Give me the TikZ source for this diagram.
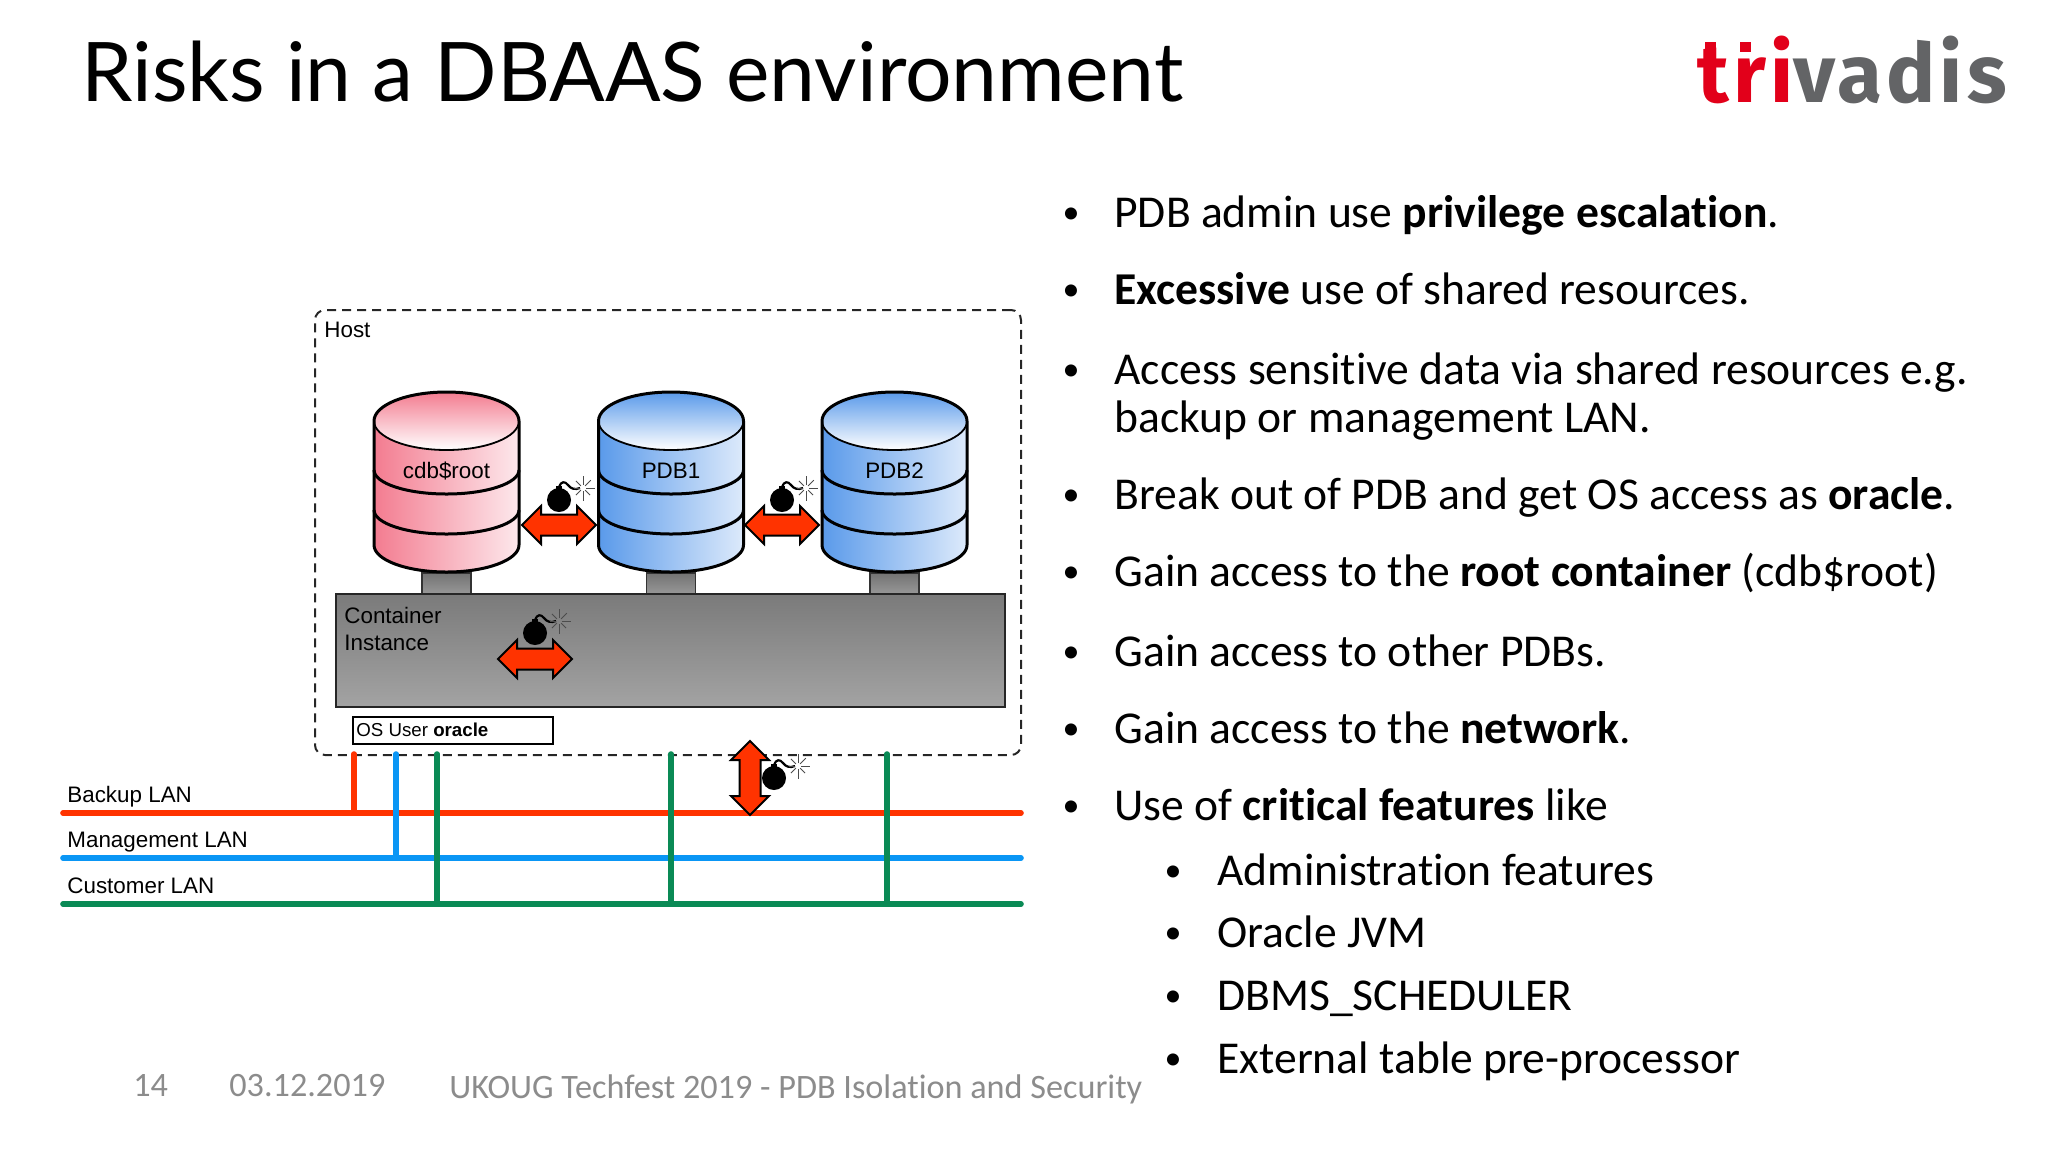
\documentclass[tikz,border=0pt]{standalone}
\usepackage{xcolor}
\usepackage{fontspec}
\setmainfont{Carlito}[Ligatures=NoCommon]
\setsansfont{Liberation Sans}
\newfontfamily\titlefont{Lato}
\newfontfamily\logofont{Fira Sans}[LetterSpace=5]
\usetikzlibrary{positioning, shapes.geometric, shapes.arrows}

\definecolor{lanred}{HTML}{FF3300}
\definecolor{lanblue}{HTML}{0A96F5}
\definecolor{langreen}{HTML}{0A8A55}
\definecolor{logored}{HTML}{E2001A}
\definecolor{logogray}{HTML}{636466}
\definecolor{footgray}{HTML}{8C8C8C}
\definecolor{pinkdark}{HTML}{F37C90}
\definecolor{pinklight}{HTML}{FDE8EC}
\definecolor{bluedark}{HTML}{5A9AEA}
\definecolor{bluelight}{HTML}{DDEAFB}

\tikzset{
    bullet/.style={anchor=base west, inner sep=0pt, font=\fontsize{22.8}{27}\selectfont, text=black},
    dot/.style={anchor=base, inner sep=0pt, font=\fontsize{17}{20}\selectfont},
    lantext/.style={anchor=base west, inner sep=0pt, font=\sffamily\fontsize{11.2}{14}\selectfont},
    lan/.style={line width=2.8pt, line cap=round},
    footer/.style={anchor=base west, inner sep=0pt, text=footgray, font=\fontsize{17.1}{20}\selectfont},
    dbarrow/.style={double arrow, draw=black, line width=1pt, fill=lanred, inner xsep=0pt, inner ysep=4.75pt, minimum width=18pt, minimum height=37pt, double arrow head extend=4.25pt},
    logodot/.style={fill=logored, minimum width=5.5pt, minimum height=5pt, inner sep=0pt, anchor=north west},
    stem/.style={draw=black!80, line width=.8pt, top color=black!55, bottom color=black!40, minimum width=24.5pt, minimum height=11pt, anchor=north, inner sep=0pt},
    pics/bomb/.style={code={
        \fill[black] (0,0) circle (12);
        \fill[black] (-3,-11) rectangle (3,-14);
        \draw[black, line width=1.1pt] (0,-13) .. controls (2,-19) and (6,-19) .. (9,-15) .. controls (12,-11) and (16,-10) .. (21,-12);
        \foreach \a/\l in {0/9,45/7,90/10,135/7,180/6,225/7,270/9,315/8}
            \draw[black!70, line width=.5pt] (24,-12)++(\a:3) -- ++(\a:\l);
    }},
    pics/database/.style 2 args={code={
        \path[left color=#1dark, right color=#1light] (-72.5,29) -- (-72.5,153)
            arc[start angle=180, end angle=0, x radius=72.5, y radius=27] -- (72.5,29)
            arc[start angle=0, end angle=180, x radius=72.5, y radius=29] -- cycle;
        \path[top color=#1dark, bottom color=white] (0,29) ellipse[x radius=72.5, y radius=29];
        \draw[line width=.9pt] (-72.5,29) arc[start angle=180, end angle=0, x radius=72.5, y radius=29];
        \draw[line width=1.5pt] (-72.5,78) arc[start angle=180, end angle=0, x radius=72.5, y radius=24];
        \draw[line width=1.5pt] (-72.5,118) arc[start angle=180, end angle=0, x radius=72.5, y radius=24];
        \draw[line width=1.5pt] (-72.5,153) -- (-72.5,29) arc[start angle=180, end angle=360, x radius=72.5, y radius=29] -- (72.5,153)
            arc[start angle=0, end angle=180, x radius=72.5, y radius=27];
        \node[inner sep=0pt, font=\sffamily\fontsize{11.2}{14}\selectfont] (-label) at (0,79) {#2};
    }}
}

\begin{document}
\begin{tikzpicture}[x=0.5pt, y=-0.5pt]
\useasboundingbox (0,0) rectangle (2048,1152);

% Title and logo
\node[anchor=base west, inner sep=0pt, font=\titlefont\fontsize{41.1}{48}\selectfont] (title) at (81,101) {Risks in a DBAAS environment};
\node[anchor=base west, inner sep=0pt, font=\logofont\bfseries\fontsize{41}{48}\selectfont, text=logogray] (logo) at (1697,102) {\textcolor{logored}{tri}vadis};
\node[logodot] (tdot) at (1705,42) {};
\node[logodot] (rdot) at (1740,42) {};

% Host
\node[draw=black!85, dash pattern=on 4.5pt off 3pt, line width=1pt, rounded corners=5pt, minimum width=353pt, minimum height=222.5pt, anchor=north west, inner sep=0pt] (host) at (314,309) {};
\node[anchor=base west, inner sep=0pt, font=\sffamily\fontsize{11.2}{14}\selectfont] (hostlabel) at (324,337) {Host};

% Stems under the databases
\node[stem] (stem1) at (446.5,572) {};
\node[stem] (stem2) at (671,572) {};
\node[stem] (stem3) at (894.5,572) {};

% Databases
\pic (cdb) at (446.5,392) {database={pink}{cdb\$root}};
\pic (pdb1) at (671,392) {database={blue}{PDB1}};
\pic (pdb2) at (894.5,392) {database={blue}{PDB2}};

% Container instance
\node[draw=black!85, line width=1pt, top color=black!52, bottom color=black!36, minimum width=334.7pt, minimum height=56.5pt, anchor=north west, inner sep=0pt] (instance) at (335,593) {};
\node[anchor=north west, inner sep=0pt, align=left, font=\sffamily\fontsize{11.2}{13.4}\selectfont] (instlabel) at (344,607) {Container\\Instance};
\node[draw=black, line width=.8pt, minimum width=100pt, minimum height=13.5pt, anchor=north west, inner sep=0pt] (osuser) at (352,716) {};
\node[anchor=base west, inner sep=0pt, font=\sffamily\fontsize{9.35}{12}\selectfont] (oslabel) at (356,736) {OS User \textbf{oracle}};

% LAN rails
\coordinate (backupw) at (63,813);
\coordinate (backupe) at (1021,813);
\coordinate (mgmtw) at (63,858);
\coordinate (mgmte) at (1021,858);
\coordinate (custw) at (63,904);
\coordinate (custe) at (1021,904);
\draw[lan, lanred] (backupw) -- (backupe);
\draw[lan, lanblue] (mgmtw) -- (mgmte);
\draw[lan, langreen] (custw) -- (custe);
\node[lantext] (backuplabel) at (67,802) {Backup LAN};
\node[lantext] (mgmtlabel) at (67,847) {Management LAN};
\node[lantext] (custlabel) at (67,893) {Customer LAN};

% Host links
\coordinate (linka) at (354,754);
\coordinate (linkb) at (396,754);
\coordinate (linkc) at (437,754);
\coordinate (linkd) at (671,754);
\coordinate (linke) at (887,754);
\draw[lan, lanred] (linka) -- (linka |- backupw);
\draw[lan, lanblue] (linkb) -- (linkb |- mgmtw);
\draw[lan, langreen] (linkc) -- (linkc |- custw);
\draw[lan, langreen] (linkd) -- (linkd |- custw);
\draw[lan, langreen] (linke) -- (linke |- custw);

% Red arrows
\node[dbarrow] (risk1) at (559,525) {};
\node[dbarrow] (risk2) at (782,525) {};
\node[dbarrow] (risk3) at (535,659) {};
\node[dbarrow, rotate=90] (risk4) at (750,778) {};

% Bombs
\pic at (559,500) {bomb};
\pic at (782,500) {bomb};
\pic at (535,633) {bomb};
\pic at (774,778) {bomb};

% Bullets
\node[dot] (d1) at (1071,223) {•};
\node[bullet] (t1) at (1114,227) {PDB admin use \textbf{privilege escalation}.};
\node[dot] (d2) at (1071,300) {•};
\node[bullet] (t2) at (1114,304) {\textbf{Excessive} use of shared resources.};
\node[dot] (d3) at (1071,380) {•};
\node[bullet] (t3) at (1114,384) {Access sensitive data via shared resources e.g.};
\node[bullet] (t3b) at (1114,432) {backup or management LAN.};
\node[dot] (d4) at (1071,505) {•};
\node[bullet] (t4) at (1114,509) {Break out of PDB and get OS access as \textbf{oracle}.};
\node[dot] (d5) at (1071,582) {•};
\node[bullet] (t5) at (1114,586) {Gain access to the \textbf{root container} (cdb\$root)};
\node[dot] (d6) at (1071,662) {•};
\node[bullet] (t6) at (1114,666) {Gain access to other PDBs.};
\node[dot] (d7) at (1071,739) {•};
\node[bullet] (t7) at (1114,743) {Gain access to the \textbf{network}.};
\node[dot] (d8) at (1071,816) {•};
\node[bullet] (t8) at (1114,820) {Use of \textbf{critical features} like};
\node[dot] (s1) at (1173,881) {•};
\node[bullet] (u1) at (1217,885) {Administration features};
\node[dot] (s2) at (1173,943) {•};
\node[bullet] (u2) at (1217,947) {Oracle JVM};
\node[dot] (s3) at (1173,1006) {•};
\node[bullet] (u3) at (1217,1010) {DBMS\_SCHEDULER};
\node[dot] (s4) at (1173,1069) {•};
\node[bullet] (u4) at (1217,1073) {External table pre-processor};

% Footer
\node[footer] (page) at (133,1096) {14};
\node[footer] (date) at (229,1096) {03.12.2019};
\node[footer] (event) at (449,1098) {UKOUG Techfest 2019 - PDB Isolation and Security};
\end{tikzpicture}
\end{document}
